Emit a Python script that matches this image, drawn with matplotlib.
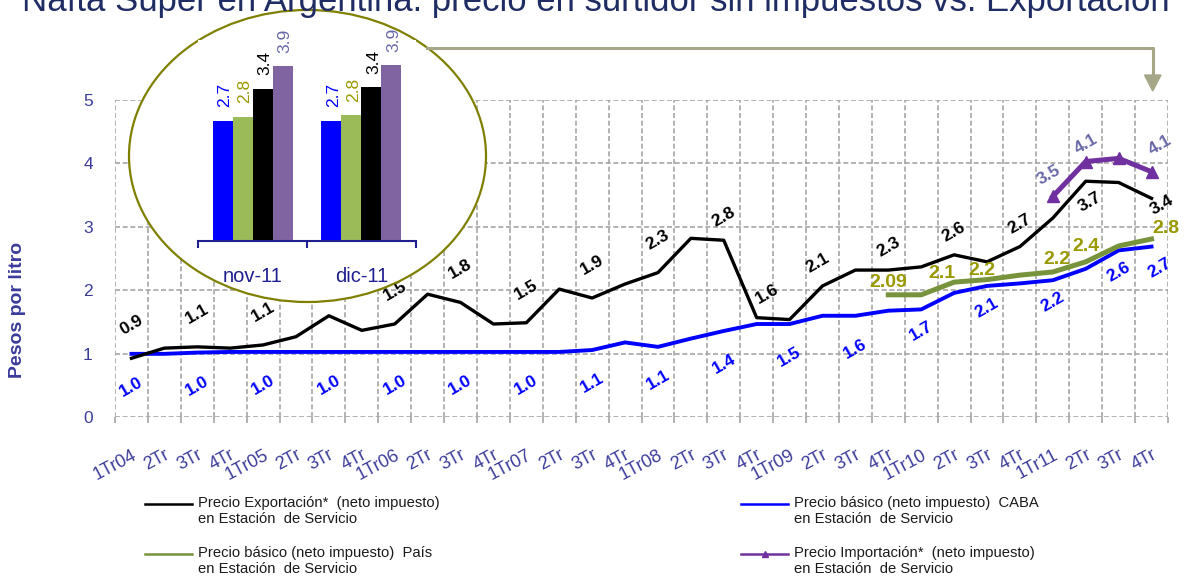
import numpy as np
import matplotlib
matplotlib.use('Agg')
import matplotlib.pyplot as plt
from matplotlib.patches import Ellipse, Polygon
from matplotlib.lines import Line2D

plt.rcParams['font.family'] = ['Liberation Sans', 'DejaVu Sans']

# ---------------- data ----------------
quarters = ['1Tr04', '2Tr', '3Tr', '4Tr', '1Tr05', '2Tr', '3Tr', '4Tr',
            '1Tr06', '2Tr', '3Tr', '4Tr', '1Tr07', '2Tr', '3Tr', '4Tr',
            '1Tr08', '2Tr', '3Tr', '4Tr', '1Tr09', '2Tr', '3Tr', '4Tr',
            '1Tr10', '2Tr', '3Tr', '4Tr', '1Tr11', '2Tr', '3Tr', '4Tr']

export = [0.93, 1.09, 1.11, 1.09, 1.14, 1.27, 1.60, 1.37, 1.47, 1.94, 1.81, 1.47,
          1.49, 2.02, 1.88, 2.10, 2.28, 2.82, 2.79, 1.57, 1.54, 2.07, 2.32, 2.32,
          2.37, 2.56, 2.45, 2.69, 3.14, 3.72, 3.70, 3.45]
caba = [1.00, 1.00, 1.02, 1.03, 1.03, 1.03, 1.03, 1.03, 1.03, 1.03, 1.03, 1.03,
        1.03, 1.03, 1.06, 1.18, 1.11, 1.24, 1.36, 1.47, 1.47, 1.60, 1.60, 1.68,
        1.70, 1.96, 2.07, 2.11, 2.16, 2.34, 2.63, 2.69]
pais = [np.nan] * 23 + [1.93, 1.93, 2.13, 2.17, 2.24, 2.29, 2.45, 2.70, 2.81]
importacion = [np.nan] * 28 + [3.48, 4.03, 4.08, 3.87]

export_labels = ['0.9', None, '1.1', None, '1.1', None, None, None, '1.5', None, '1.8', None,
                 '1.5', None, '1.9', None, '2.3', None, '2.8', '1.6', None, '2.1', None, '2.3',
                 None, '2.6', None, '2.7', None, '3.7', None, '3.4']
caba_labels = ['1.0', None, '1.0', None, '1.0', None, '1.0', None, '1.0', None, '1.0', None,
               '1.0', None, '1.1', None, '1.1', None, '1.4', None, '1.5', None, '1.6', None,
               '1.7', None, '2.1', None, '2.2', None, '2.6', '2.7']
pais_labels = [None] * 23 + ['2.09', None, '2.1', '2.2', None, '2.2', '2.4', None, '2.8']
import_labels = [None] * 28 + ['3.5', '4.1', None, '4.1']

months = ['nov-11', 'dic-11']
m_caba = [2.70, 2.70]
m_pais = [2.79, 2.82]
m_export = [3.42, 3.45]
m_import = [3.92, 3.95]
m_labels = ['2.7', '2.8', '3.4', '3.9']

legend_texts = ['Precio Exportación*  (neto impuesto)\nen Estación  de Servicio',
                'Precio básico (neto impuesto)  País\nen Estación  de Servicio',
                'Precio básico (neto impuesto)  CABA\nen Estación  de Servicio',
                'Precio Importación*  (neto impuesto)\nen Estación  de Servicio']
title = 'Nafta Súper en Argentina: precio en surtidor sin impuestos vs. Exportación'

# ---------------- styles ----------------
W, H = 1187, 579
C_BLACK = '#000000'
C_BLUE = '#0000ff'
C_GREEN = '#77933c'
C_PURPLE = '#7030a0'
C_GLAB = '#999900'
C_PLAB = '#6868a8'
C_AX = '#3b3b9a'
C_GRID = '#a6a6a6'
C_NAVY = '#1f1f8f'


def fx(px):
    return px / W


def fy(py):
    return 1 - py / H


fig = plt.figure(figsize=(W / 100, H / 100), dpi=100)
renderer = fig.canvas.get_renderer()

# main axes
ax = fig.add_axes([fx(115), fy(417.3), (1168 - 115) / W, (417.3 - 100) / H])
ax.set_zorder(0)
x = np.arange(len(quarters))
ax.plot(x, caba, color=C_BLUE, lw=2.8, zorder=3, solid_joinstyle='round')
ax.plot(x, pais, color=C_GREEN, lw=3.6, zorder=3, solid_joinstyle='round')
ax.plot(x, export, color=C_BLACK, lw=2.4, zorder=4, solid_joinstyle='round')
ax.plot(x, importacion, color=C_PURPLE, lw=3.6, zorder=4, marker='^', ms=9,
        solid_joinstyle='round')

ax.set_xlim(-0.5, len(quarters) - 0.5)
ax.set_ylim(0, 5)
ax.set_xticks(x)
ax.set_xticklabels(quarters, rotation=28, ha='right', va='top', rotation_mode='anchor')
ax.set_xticks(np.arange(len(quarters) + 1) - 0.5, minor=True)
ax.set_yticks(range(6))
gls = (0, (3, 1.6))
ax.grid(which='minor', axis='x', color=C_GRID, ls=gls, lw=1.2)
ax.grid(which='major', axis='y', color=C_GRID, ls=gls, lw=1.2)
ax.tick_params(axis='x', which='major', length=0, pad=21, labelsize=13, labelcolor=C_AX)
ax.tick_params(axis='x', which='minor', length=4, color=C_GRID, width=1.2, direction='out')
ax.tick_params(axis='y', length=0, pad=16, labelsize=12.5, labelcolor=C_AX)
for s in ax.spines.values():
    s.set_visible(False)


def label_series(vals, labels, color, size, rotation, offsets, weight='bold'):
    for i, (v, t) in enumerate(zip(vals, labels)):
        if t is None:
            continue
        dx, dy = offsets(i)
        ax.annotate(t, (x[i], v), xytext=(dx * 0.72, dy * 0.72), textcoords='offset points',
                    ha='center', va='center', rotation=rotation, color=color,
                    fontsize=size, fontweight=weight, zorder=6)


def off_export(i):
    special = {29: (4, -21), 31: (10, -7), 19: (10, 24), 21: (-5, 23)}
    return special.get(i, (0, 33) if i <= 16 else (0, 23))


def off_caba(i):
    special = {31: (8, -21)}
    return special.get(i, (0, -33) if i <= 22 else (0, -22))


def off_pais(i):
    special = {23: (0, 12), 25: (-12, 9), 26: (-5, 9), 28: (4, 12), 29: (0, 15), 31: (14, 10)}
    return special.get(i, (0, 10))


def off_import(i):
    special = {28: (-4, 21), 29: (0, 18), 31: (8, 27)}
    return special.get(i, (0, 20))


label_series(export, export_labels, C_BLACK, 12.5, 30, off_export)
label_series(caba, caba_labels, C_BLUE, 12.5, 30, off_caba)
label_series(pais, pais_labels, C_GLAB, 14, 0, off_pais)
label_series(importacion, import_labels, C_PLAB, 12.5, 30, off_import)

# y label
fig.text(fx(18), fy(310), 'Pesos por litro', rotation=90, ha='center', va='center',
         fontsize=14, fontweight='bold', color=C_AX)

# ellipse (zoom bubble)
ell = Ellipse((fx(307.5), fy(156)), 357 / W, 292 / H, transform=fig.transFigure,
              facecolor='white', edgecolor='#808000', lw=1.6, zorder=2)
fig.add_artist(ell)

# connector arrow
ccol = '#a6a688'
fig.add_artist(Line2D([fx(427), fx(1152.7), fx(1152.7)], [fy(47.5), fy(47.5), fy(78)],
                      color=ccol, lw=2.2, transform=fig.transFigure, zorder=2))
fig.add_artist(Polygon([[fx(1144.5), fy(75)], [fx(1161), fy(75)], [fx(1152.7), fy(91)]],
                       closed=True, transform=fig.transFigure, facecolor=ccol,
                       edgecolor=ccol, zorder=2))

# inset bar chart
iax = fig.add_axes([fx(198.3), fy(240.7), (415.7 - 198.3) / W, (240.7 - 40) / H])
iax.set_zorder(3)
iax.patch.set_facecolor('white')
bw = 0.184
xm = np.arange(len(months))
series = [(m_caba, C_BLUE, C_BLUE), (m_pais, '#9bbb59', C_GLAB),
          (m_export, C_BLACK, C_BLACK), (m_import, '#8064a2', C_PLAB)]
for k, (vals, fc, lc) in enumerate(series):
    pos = xm + (k - 1.5) * bw
    iax.bar(pos, vals, width=bw, color=fc, zorder=2)
    for p, v in zip(pos, vals):
        iax.annotate(m_labels[k], (p, v), xytext=(1.5, 9.5), textcoords='offset points',
                     ha='center', va='bottom', rotation=90, color=lc, fontsize=12.5,
                     annotation_clip=False)
iax.set_xlim(-0.5, len(months) - 0.5)
iax.set_ylim(0, 4.51)
iax.set_yticks([])
iax.set_xticks(xm)
iax.set_xticklabels(months)
iax.set_xticks(np.arange(len(months) + 1) - 0.5, minor=True)
iax.tick_params(axis='x', which='major', length=0, pad=19, labelsize=14.5, labelcolor=C_NAVY)
iax.tick_params(axis='x', which='minor', length=5, width=1.5, color=C_NAVY, direction='out')
for side in ['top', 'left', 'right']:
    iax.spines[side].set_visible(False)
iax.spines['bottom'].set_color(C_NAVY)
iax.spines['bottom'].set_linewidth(1.5)

# legend (manual)
probe = fig.text(0, 0, legend_texts[0].split('\n')[0], fontsize=10)
leg_fs = 10 * 241 / probe.get_window_extent(renderer).width
probe.remove()
leg_items = [
    (145, 504, C_BLACK, None, legend_texts[0]),
    (145, 554, C_GREEN, None, legend_texts[1]),
    (741, 504, C_BLUE, None, legend_texts[2]),
    (741, 554, C_PURPLE, '^', legend_texts[3]),
]
for (lx, ly, col, mk, txt) in leg_items:
    fig.add_artist(Line2D([fx(lx), fx(lx + 47)], [fy(ly), fy(ly)], color=col, lw=1.8,
                          transform=fig.transFigure))
    if mk:
        fig.add_artist(Line2D([fx(lx + 23.5)], [fy(ly)], color=col, marker='^', ms=5,
                              transform=fig.transFigure))
    fig.text(fx(lx + 53), fy(ly - 8), txt, ha='left', va='top', fontsize=leg_fs,
             color='#1a1a1a', linespacing=1.15)

# title (partly cut at the top, as in the reference)
tt = fig.text(fx(22), fy(11), title, ha='left', va='baseline', fontsize=22, color='#1f2d64')
bb = tt.get_window_extent(renderer)
tt.set_fontsize(22 * 1143 / bb.width)

fig.savefig('out.png', dpi=100)
